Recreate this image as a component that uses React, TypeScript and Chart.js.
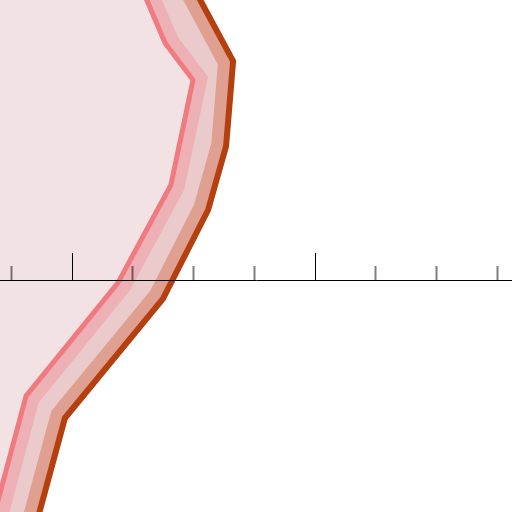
import React, { useEffect, useRef } from "react";
import { Chart, registerables } from "chart.js";

Chart.register(...registerables);

// Visible window of the value (horizontal) and vertical scales
const X_MIN = -29.63;
const X_MAX = 181.07;
const Y_MIN = -95.47;
const Y_MAX = 115.23;

// Tick spacing
const majorStep = 100;
const minorStep = 25;

// Inner (red) trace
const redX = [25.5, 38.3, 49.8, 40.7, 18.9, -18.9, -33.7];
const redY = [127.6, 97.5, 82.3, 39.1, -1.2, -47.7, -102.9];

// Outer (dark orange) trace
const orangeX = [46.1, 66.3, 63.4, 56.0, 37.4, -2.9, -16.5];
const orangeY = [127.6, 90.1, 55.1, 28.8, -7.8, -56.8, -107.0];

const toPoints = (xs: number[], ys: number[]) => xs.map((x, i) => ({ x, y: ys[i] }));

export default function App() {
  const ref = useRef<HTMLCanvasElement>(null);

  useEffect(() => {
    document.body.style.margin = "0";
    const red = toPoints(redX, redY);
    const orange = toPoints(orangeX, orangeY);
    const base = {
      pointRadius: 0,
      pointHoverRadius: 0,
      tension: 0,
      borderJoinStyle: "miter" as const,
    };
    const hidden = "rgba(0,0,0,0)";

    const chart = new Chart(ref.current as HTMLCanvasElement, {
      type: "line",
      data: {
        datasets: [
          { ...base, label: "outer line", data: orange, borderColor: "#b5400f", borderWidth: 6, fill: false },
          { ...base, label: "inner line", data: red, borderColor: "#f07a80", borderWidth: 5, fill: false },
          { ...base, label: "outside", data: orange, borderColor: hidden, borderWidth: 0, fill: { value: X_MAX }, backgroundColor: "#ffffff" },
          { ...base, label: "inside", data: red, borderColor: hidden, borderWidth: 0, fill: { value: X_MIN }, backgroundColor: "#f3e2e3" },
          { ...base, label: "outer band", data: orange, borderColor: "#dfa091", borderWidth: 30, fill: false },
          { ...base, label: "inner band", data: red, borderColor: "#edb0b5", borderWidth: 28, fill: false },
          { ...base, label: "middle", data: orange, borderColor: hidden, borderWidth: 0, fill: { value: X_MIN }, backgroundColor: "#ebcacb" },
        ],
      },
      options: {
        indexAxis: "y",
        responsive: false,
        animation: false,
        devicePixelRatio: 1,
        layout: { padding: 0 },
        plugins: { legend: { display: false }, tooltip: { enabled: false }, title: { display: false } },
        events: [],
        scales: {
          x: {
            type: "linear",
            min: X_MIN,
            max: X_MAX,
            position: { y: 0 },
            z: 1,
            afterFit: (s: any) => { s.height = 0; },
            ticks: { display: false, stepSize: majorStep, includeBounds: false, autoSkip: false },
            grid: { display: true, drawOnChartArea: false, drawTicks: true, tickLength: -28, tickColor: "#000000", tickWidth: 1, z: 1 },
            border: { display: true, color: "#000000", width: 1, z: 1 },
          },
          x2: {
            type: "linear",
            axis: "x",
            min: X_MIN,
            max: X_MAX,
            position: { y: 0 },
            z: 1,
            afterFit: (s: any) => { s.height = 0; },
            ticks: { display: false, stepSize: minorStep, includeBounds: false, autoSkip: false },
            grid: {
              display: true,
              drawOnChartArea: false,
              drawTicks: true,
              tickLength: -14,
              tickWidth: 2,
              tickColor: (ctx: any) =>
                ctx.tick && Math.abs(ctx.tick.value % majorStep) < 1e-6 ? "rgba(0,0,0,0)" : "rgba(0,0,0,0.5)",
              z: 1,
            },
            border: { display: false },
          },
          y: { type: "linear", min: Y_MIN, max: Y_MAX, display: false },
        },
      } as any,
    });
    return () => chart.destroy();
  }, []);

  return <canvas ref={ref} width={512} height={512} style={{ display: "block", width: 512, height: 512 }} />;
}
